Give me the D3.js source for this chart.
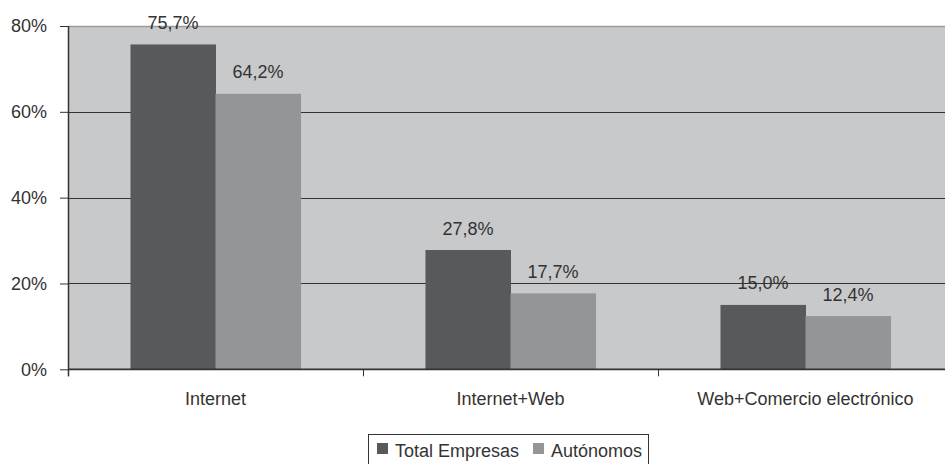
<!DOCTYPE html>
<html><head><meta charset="utf-8">
<script src="https://cdn.jsdelivr.net/npm/d3@7"></script>
<style>body{margin:0;background:#fff}svg{display:block}text{font-family:"Liberation Sans",Arial,sans-serif;fill:#333}</style>
</head><body><svg id="c" width="945" height="464"></svg>
<script>
const categories = ["Internet", "Internet+Web", "Web+Comercio electrónico"];
const seriesNames = ["Total Empresas", "Autónomos"];
const totalEmpresas = [75.7, 27.8, 15.0];
const autonomos = [64.2, 17.7, 12.4];
const yTicks = [0, 20, 40, 60, 80];
const colors = ["#58595b", "#939598"];

const svg = d3.select("#c");
const m = {l: 68, r: 953, t: 26, b: 369.3};
const x = d3.scaleBand().domain(categories).range([m.l, m.r]).paddingInner(0).paddingOuter(0);
const xs = d3.scaleBand().domain(seriesNames).range([0, x.bandwidth()]).paddingOuter(0.735).paddingInner(0);
const y = d3.scaleLinear().domain([0, 80]).range([m.b, m.t]);
const fs = "18px";

svg.append("rect").attr("x", m.l).attr("y", m.t).attr("width", m.r - m.l).attr("height", m.b - m.t).attr("fill", "#c8c9cb");
svg.append("line").attr("x1", m.l).attr("x2", m.r).attr("y1", m.t + 0.5).attr("y2", m.t + 0.5).attr("stroke", "#9a9a9a").attr("stroke-width", 1.5);

// gridlines
svg.append("g").selectAll("line").data(yTicks.filter(d => d > 0 && d < 80)).join("line")
  .attr("x1", m.l).attr("x2", m.r).attr("y1", d => Math.round(y(d)) + 0.5).attr("y2", d => Math.round(y(d)) + 0.5)
  .attr("stroke", "#333").attr("stroke-width", 1);

const data = categories.map((c, i) => ({c, vals: [totalEmpresas[i], autonomos[i]]}));
const g = svg.append("g").selectAll("g").data(data).join("g").attr("transform", d => `translate(${x(d.c)},0)`);
g.selectAll("rect").data(d => d.vals.map((v, j) => ({v, s: seriesNames[j], j}))).join("rect")
  .attr("x", d => xs(d.s)).attr("width", xs.bandwidth() + 0.5)
  .attr("y", d => y(d.v)).attr("height", d => y(0) - y(d.v)).attr("fill", d => colors[d.j]);
g.selectAll("text").data(d => d.vals.map((v, j) => ({v, s: seriesNames[j]}))).join("text")
  .attr("x", d => xs(d.s) + xs.bandwidth() / 2).attr("y", d => y(d.v) - 15.5)
  .attr("text-anchor", "middle").style("font-size", fs)
  .text(d => d.v.toFixed(1).replace(".", ",") + "%");

// y axis
const ya = svg.append("g").attr("transform", `translate(${m.l},0)`)
  .call(d3.axisLeft(y).tickValues(yTicks).tickSize(8).tickPadding(13).tickFormat(d => d + "%"));
ya.select(".domain").remove();
ya.selectAll(".tick line").attr("stroke", "#333");
ya.selectAll("text").style("font-size", fs).attr("fill", "#333").style("font-family", '"Liberation Sans",Arial,sans-serif');
svg.append("line").attr("x1", m.l + 0.5).attr("x2", m.l + 0.5).attr("y1", m.t).attr("y2", m.b + 7).attr("stroke", "#333").attr("stroke-width", 1.5);

// x axis
svg.append("line").attr("x1", m.l).attr("x2", m.r).attr("y1", m.b).attr("y2", m.b).attr("stroke", "#333").attr("stroke-width", 1.8);
svg.append("g").selectAll("line").data(categories.concat(["end"])).join("line")
  .attr("x1", (d, i) => Math.round(m.l + i * x.bandwidth()) + 0.5).attr("x2", (d, i) => Math.round(m.l + i * x.bandwidth()) + 0.5)
  .attr("y1", m.b).attr("y2", m.b + 7).attr("stroke", "#333");
svg.append("g").selectAll("text").data(categories).join("text")
  .attr("x", d => x(d) + x.bandwidth() / 2).attr("y", 405)
  .attr("text-anchor", "middle").style("font-size", fs).text(d => d);

// legend
const lg = svg.append("g");
lg.append("rect").attr("x", 368.5).attr("y", 434.5).attr("width", 280).attr("height", 32).attr("fill", "#fff").attr("stroke", "#333");
const li = [{x: 377, tx: 395}, {x: 533, tx: 551}];
seriesNames.forEach((s, j) => {
  lg.append("rect").attr("x", li[j].x).attr("y", 443).attr("width", 11).attr("height", 11).attr("fill", colors[j]);
  lg.append("text").attr("x", li[j].tx).attr("y", 457).style("font-size", fs).text(s);
});
</script></body></html>
